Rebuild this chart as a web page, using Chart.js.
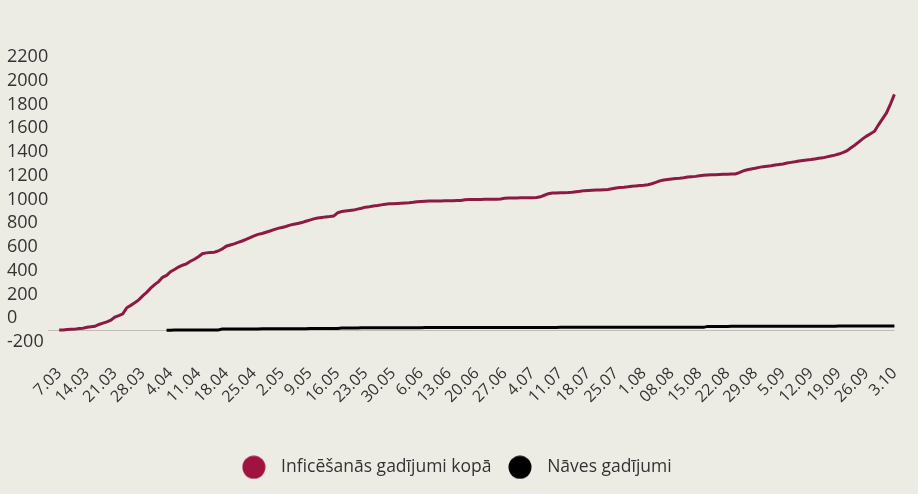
<!DOCTYPE html>
<html>
<head>
<meta charset="utf-8">
<script src="https://cdn.jsdelivr.net/npm/chart.js@4.4.0/dist/chart.umd.min.js"></script>
<style>
  html, body { margin: 0; padding: 0; background: #edece4; }
  canvas { display: block; }
</style>
</head>
<body>
<canvas id="canvas" width="918" height="494"></canvas>
<script>
// cumulative confirmed cases, one value per day (7.03 - 3.10)
var casesMar = [2, 3, 6, 8, 10, 16, 17, 26, 30, 34, 49, 60, 71, 86, 111, 124, 139, 190, 210, 232, 256, 290, 320, 355, 385];
var casesApr = [410, 446, 462, 493, 512, 533, 548, 560, 582, 598, 620, 645, 652, 655, 658, 668, 685, 708, 718, 728, 740, 752, 766, 780, 795, 808, 815, 826, 836, 848];
var casesMay = [858, 866, 874, 886, 893, 900, 907, 918, 928, 938, 945, 950, 955, 958, 962, 990, 1000, 1004, 1008, 1012, 1020, 1028, 1037, 1041, 1046, 1050, 1056, 1062, 1065, 1066, 1068];
var casesJun = [1070, 1072, 1074, 1078, 1083, 1085, 1087, 1088, 1088, 1089, 1089, 1090, 1090, 1091, 1092, 1093, 1100, 1101, 1101, 1102, 1102, 1103, 1103, 1104, 1104, 1105, 1112, 1113, 1114, 1115];
var casesJul = [1116, 1116, 1117, 1117, 1118, 1124, 1137, 1150, 1156, 1157, 1158, 1159, 1160, 1162, 1166, 1170, 1176, 1178, 1180, 1181, 1182, 1184, 1186, 1192, 1198, 1203, 1205, 1208, 1212, 1216, 1219];
var casesAug = [1222, 1226, 1234, 1245, 1258, 1266, 1270, 1274, 1278, 1281, 1285, 1290, 1293, 1296, 1302, 1305, 1307, 1309, 1310, 1312, 1313, 1314, 1315, 1316, 1328, 1342, 1352, 1358, 1364, 1372, 1378];
var casesSep = [1382, 1386, 1391, 1396, 1401, 1409, 1414, 1419, 1425, 1430, 1434, 1438, 1443, 1448, 1452, 1460, 1468, 1475, 1484, 1496, 1510, 1535, 1558, 1585, 1612, 1635, 1655, 1676, 1730, 1780];
var casesOct = [1830, 1905, 1986];

// deaths, same days
var deathsMar = [null, null, null, null, null, null, null, null, null, null, null, null, null, null, null, null, null, null, null, null, null, null, null, null, null];
var deathsApr = [null, null, 1, 1, 2, 2, 2, 2, 2, 3, 3, 3, 3, 3, 3, 3, 11, 11, 11, 11, 12, 12, 12, 12, 12, 12, 13, 13, 13, 13];
var deathsMay = [13, 13, 13, 14, 14, 14, 14, 14, 15, 15, 15, 15, 15, 16, 16, 16, 19, 19, 20, 20, 20, 21, 21, 21, 21, 22, 22, 22, 22, 22, 22];
var deathsJun = [22, 22, 22, 22, 22, 22, 23, 23, 23, 23, 23, 23, 23, 23, 23, 23, 23, 23, 23, 23, 24, 24, 24, 24, 24, 24, 24, 24, 24, 24];
var deathsJul = [24, 24, 24, 24, 24, 24, 24, 24, 24, 24, 25, 25, 25, 25, 25, 25, 25, 25, 25, 25, 25, 25, 25, 25, 25, 25, 25, 25, 25, 25, 25];
var deathsAug = [25, 25, 25, 25, 25, 25, 25, 25, 25, 25, 25, 25, 25, 25, 25, 25, 33, 33, 33, 33, 33, 33, 34, 34, 34, 34, 34, 34, 34, 34, 34];
var deathsSep = [34, 34, 34, 35, 35, 35, 35, 35, 35, 35, 35, 35, 35, 35, 35, 35, 35, 35, 36, 36, 36, 36, 36, 36, 36, 36, 36, 36, 36, 36];
var deathsOct = [36, 36, 37];

// weekly tick labels (every 7th day)
var tickLabels = ["7.03", "14.03", "21.03", "28.03", "4.04", "11.04", "18.04", "25.04", "2.05", "9.05", "16.05", "23.05", "30.05", "6.06", "13.06", "20.06", "27.06", "4.07", "11.07", "18.07", "25.07", "1.08", "08.08", "15.08", "22.08", "29.08", "5.09", "12.09", "19.09", "26.09", "3.10"];

var cases = [].concat(casesMar, casesApr, casesMay, casesJun, casesJul, casesAug, casesSep, casesOct);
var deaths = [].concat(deathsMar, deathsApr, deathsMay, deathsJun, deathsJul, deathsAug, deathsSep, deathsOct);

// one category per day
var months = [[3, 7, 31], [4, 1, 30], [5, 1, 31], [6, 1, 30], [7, 1, 31], [8, 1, 31], [9, 1, 30], [10, 1, 3]];
var days = [];
months.forEach(function (m) {
  for (var d = m[1]; d <= m[2]; d++) {
    days.push(d + "." + (m[0] < 10 ? "0" + m[0] : m[0]));
  }
});

// round legend marker
function dot(color) {
  var c = document.createElement("canvas");
  c.width = 24;
  c.height = 24;
  var g = c.getContext("2d");
  g.fillStyle = color;
  g.beginPath();
  g.arc(12, 12, 11.5, 0, Math.PI * 2);
  g.fill();
  return c;
}

Chart.defaults.font.family = "'Open Sans', 'Noto Sans', sans-serif";
Chart.defaults.color = "#333";

const ctx = document.getElementById("canvas").getContext("2d");
const myChart = new Chart(ctx, {
  type: "line",
  data: {
    labels: days,
    datasets: [
      {
        label: "Inficēšanās gadījumi kopā",
        data: cases,
        borderColor: "#8c1a44",
        backgroundColor: "#a0123f",
        borderWidth: 3,
        pointRadius: 0,
        pointStyle: dot("#a0123f"),
        tension: 0,
      },
      {
        label: "Nāves gadījumi",
        data: deaths,
        borderColor: "#000",
        backgroundColor: "#000",
        borderWidth: 3,
        pointRadius: 0,
        pointStyle: dot("#000"),
        tension: 0,
      },
    ],
  },
  options: {
    responsive: false,
    animation: false,
    devicePixelRatio: 1,
    layout: { padding: { left: 7, top: 69, right: 18, bottom: 8 } },
    plugins: {
      legend: {
        position: "bottom",
        labels: {
          usePointStyle: true,
          pointStyleWidth: 37,
          color: "#333",
          font: { size: 17.5 },
          padding: 10,
        },
      },
      tooltip: { enabled: false },
    },
    scales: {
      x: {
        grid: { display: false, drawTicks: false },
        border: { display: false },
        ticks: {
          autoSkip: false,
          minRotation: 45,
          maxRotation: 45,
          color: "#333",
          font: { size: 16 },
          padding: 10,
          callback: function (v, i) {
            return i % 7 === 0 ? tickLabels[i / 7] : "";
          },
        },
        afterFit: function (s) {
          s.height += 32;
        },
      },
      y: {
        min: -200,
        max: 2200,
        border: { display: false },
        grid: {
          color: function (c) {
            return c.tick && c.tick.value === 0 ? "#bfbdb5" : "rgba(0,0,0,0)";
          },
          tickLength: 11,
        },
        ticks: {
          stepSize: 200,
          autoSkip: false,
          color: "#333",
          font: { size: 18 },
          crossAlign: "far",
          labelOffset: -12,
          padding: 0,
          callback: function (v) {
            return String(v);
          },
        },
      },
    },
  },
});
</script>
</body>
</html>
